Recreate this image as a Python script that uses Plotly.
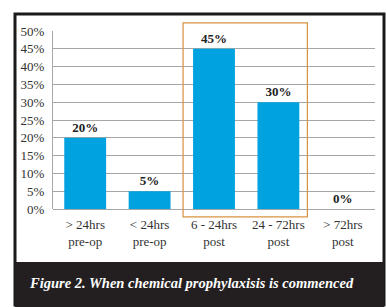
import plotly.graph_objects as go

categories = ["> 24hrs<br>pre-op", "< 24hrs<br>pre-op", "6 - 24hrs<br>post", "24 - 72hrs<br>post", "> 72hrs<br>post"]
values = [20, 5, 45, 30, 0]
value_labels = ["20%", "5%", "45%", "30%", "0%"]
tick_vals = [0, 5, 10, 15, 20, 25, 30, 35, 40, 45, 50]
tick_text = ["0%", "5%", "10%", "15%", "20%", "25%", "30%", "35%", "40%", "45%", "50%"]
caption = "Figure 2. When chemical prophylaxisis is commenced"

SERIF = "Liberation Serif"
W, H = 386, 307
L, R, T, B = 53, 11, 31, 98
pw, ph = W - L - R, H - T - B

def px(x):
    return (x - L) / pw

def py(y):
    return (H - B - y) / ph

fig = go.Figure()
fig.add_trace(go.Bar(
    x=categories, y=values, text=value_labels, textposition="outside",
    textfont=dict(family=SERIF, size=13, color="#222"),
    marker=dict(color="#00a3df", line=dict(width=0)),
    cliponaxis=False, texttemplate="<b>%{text}</b>",
))

n = len(categories)
def cat_paper(i):
    return (i + 0.5) / n

shapes = [
    dict(type="rect", xref="paper", yref="paper", x0=px(15), x1=px(384), y0=py(305), y1=py(14),
         line=dict(color="#1a1a1a", width=3), fillcolor="rgba(0,0,0,0)", layer="below"),
    dict(type="rect", xref="paper", yref="paper", x0=px(15), x1=px(384), y0=py(307), y1=py(262),
         line=dict(width=0), fillcolor="#231f20", layer="above"),
    dict(type="rect", xref="paper", yref="paper",
         x0=cat_paper(1.52), x1=cat_paper(3.45), y0=-2.2 / 50, y1=52.3 / 50,
         line=dict(color="#d9923f", width=1.2), fillcolor="rgba(0,0,0,0)", layer="above"),
]

fig.update_layout(
    width=W, height=H,
    margin=dict(l=L, r=R, t=T, b=B, pad=0),
    paper_bgcolor="white", plot_bgcolor="white",
    bargap=0.35, showlegend=False,
    shapes=shapes,
    font=dict(family=SERIF, size=13, color="#333"),
    annotations=[dict(text="<b><i>" + caption + "</i></b>", xref="paper", yref="paper",
                      x=px(27), y=py(283), xanchor="left", yanchor="middle", showarrow=False,
                      font=dict(family=SERIF, size=14.5, color="white"))],
)
fig.update_yaxes(range=[0, 50], tickvals=tick_vals, ticktext=tick_text,
                 showgrid=True, gridcolor="#a6a6a6", gridwidth=1.3,
                 showline=True, linecolor="#a6a6a6", linewidth=1.3,
                 zeroline=True, zerolinecolor="#a6a6a6", zerolinewidth=1.3,
                 ticks="", ticklabelstandoff=5, tickfont=dict(family=SERIF, size=13, color="#333"))
fig.update_xaxes(showgrid=False, showline=False, ticks="", ticklabelstandoff=6,
                 tickfont=dict(family=SERIF, size=13, color="#333"))

fig.write_html("out.html", config={"displayModeBar": False},
               post_script="document.body.style.margin='0';")
